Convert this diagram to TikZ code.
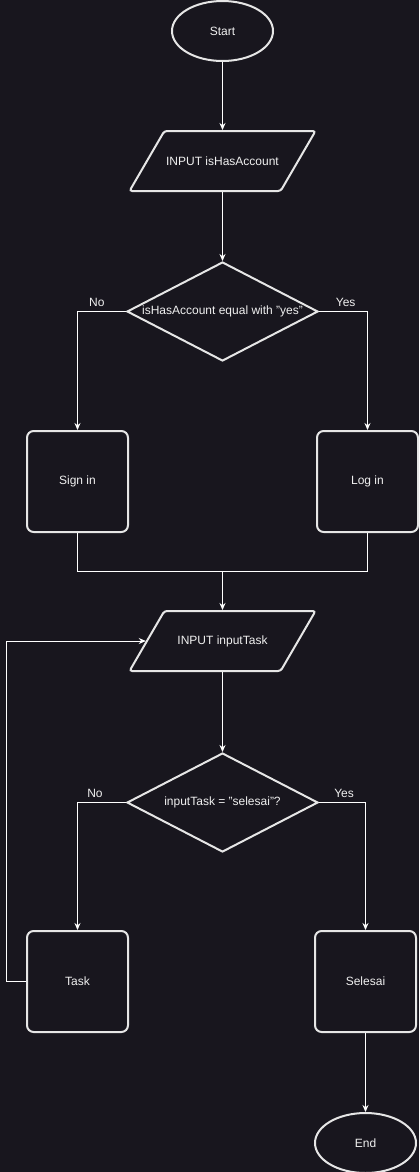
\documentclass[tikz,border=0pt]{standalone}
\usepackage{fontspec}
\setmainfont{Liberation Sans}
\usetikzlibrary{arrows.meta,shapes.geometric,positioning}
\definecolor{bgdark}{HTML}{18161E}
\definecolor{linegrey}{HTML}{E6E6E6}
\definecolor{textwhite}{HTML}{F0F0F0}

\begin{document}
\begin{tikzpicture}[x=0.75pt,y=-0.75pt,
  every node/.style={font=\fontsize{9pt}{11pt}\selectfont, text=textwhite},
  terminal/.style={ellipse, draw=linegrey, line width=1.5pt, fill=bgdark,
    minimum width=75.75pt, minimum height=45pt},
  io/.style={trapezium, trapezium left angle=54, trapezium right angle=126,
    trapezium stretches body, draw=linegrey, line width=1.5pt, rounded corners=2pt,
    inner xsep=0pt, inner ysep=18pt, minimum width=139.5pt, minimum height=45pt},
  decision/.style={diamond, draw=linegrey, line width=1.5pt, inner sep=0pt,
    minimum width=143.25pt, minimum height=74.25pt},
  proc/.style={rectangle, rounded corners=5pt, draw=linegrey, line width=1.5pt,
    minimum width=75.75pt, minimum height=75.75pt},
  flow/.style={draw=white, line width=0.75pt, -{Stealth[length=5.25pt,width=4.5pt]}},
  joinline/.style={draw=white, line width=0.75pt}]
\fill[bgdark] (0,0) rectangle (419,1172);
\useasboundingbox (0,0) rectangle (419,1172);
\node[terminal] (start) at (222.5,31) {Start};
\node[io, label={center:{INPUT isHasAccount}}] (in1) at (222.5,161) {};
\node[decision, label={center:{isHasAccount equal with "yes"}}] (dec1) at (222.5,311.5) {};
\node[proc] (signin) at (77.5,481.5) {Sign in};
\node[proc] (login) at (367.5,481.5) {Log in};
\coordinate (join) at (222.5,571);
\node[io, label={center:{INPUT inputTask}}] (in2) at (222.5,641) {};
\node[decision, label={center:{inputTask = "selesai"?}}] (dec2) [below=60pt of in2] {};
\node[proc] (task) at (77.5,981.5) {Task};
\node[proc] (selesai) at (365.5,981.5) {Selesai};
\node[terminal] (end) [below=59.25pt of selesai] {End};
\draw[flow] (start) -- (in1);
\draw[flow] (in1) -- (dec1);
\draw[flow] (dec1.west) -| node[pos=0.3, above] {No} (signin.north);
\draw[flow] (dec1.east) -| node[pos=0.275, above] {Yes} (login.north);
\draw[joinline] (signin.south) |- (join) -| (login.south);
\draw[flow] (join) -- (in2);
\draw[flow] (in2) -- (dec2);
\draw[flow] (dec2.west) -| node[pos=0.32, above] {No} (task.north);
\draw[flow] (dec2.east) -| node[pos=0.27, above] {Yes} (selesai.north);
\draw[flow] (task.west) -- ++(-20,0) |- (in2.west);
\draw[flow] (selesai) -- (end);
\end{tikzpicture}
\end{document}
